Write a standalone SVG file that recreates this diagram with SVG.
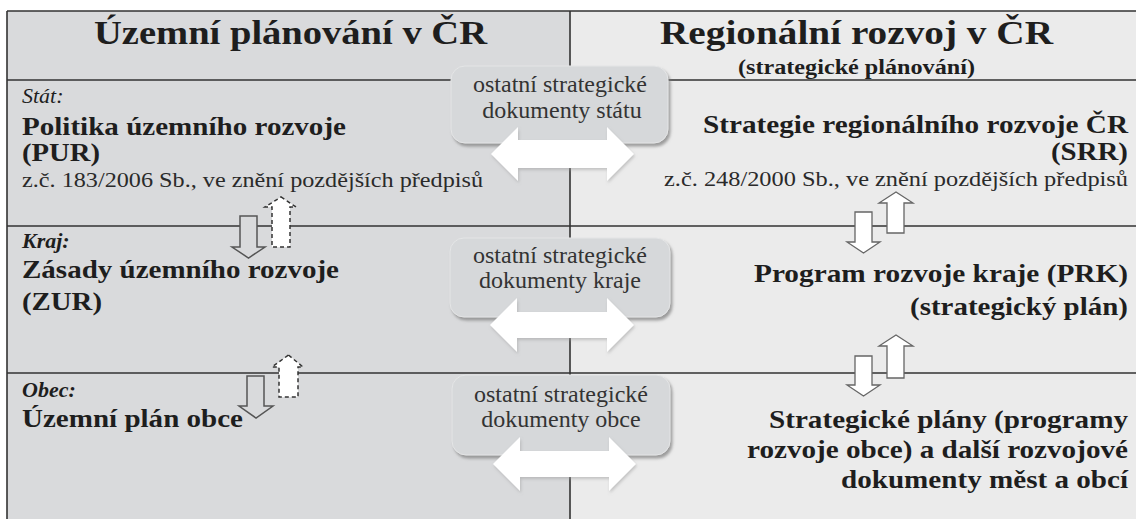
<svg xmlns="http://www.w3.org/2000/svg" width="1136" height="519" viewBox="0 0 1136 519">
<defs>
<style>
.t{font-family:"Liberation Serif","Times New Roman",serif;fill:#1e1e1e}
.b{font-weight:bold}
.ti{font-size:33px;font-weight:bold}
.sub{font-size:20px;font-weight:bold}
.bd{font-size:25px;font-weight:bold}
.rg{font-size:22px;fill:#2a2a2a}
.lb{font-size:22px;font-style:italic}
.bx{font-size:24px;fill:#333}
.ln{stroke:#333;stroke-width:1.6;fill:none}
.box{fill:#d6d8da;stroke:#e4e5e6;stroke-width:1}
.dbl{fill:#fff}
.dl{fill:#d9dadc;stroke:#555;stroke-width:1.5}
.dr{fill:#fff;stroke:#666;stroke-width:1.3}
.ds{fill:#fff;stroke:#333;stroke-width:1.5;stroke-dasharray:4 3}
</style>
<filter id="sh" x="-10%" y="-10%" width="130%" height="140%">
<feDropShadow dx="2" dy="3" stdDeviation="1.5" flood-color="#7a7a7a" flood-opacity="0.7"/>
</filter>
<filter id="sh2" x="-10%" y="-20%" width="130%" height="150%">
<feDropShadow dx="1" dy="2" stdDeviation="1.5" flood-color="#9a9a9a" flood-opacity="0.5"/>
</filter>
</defs>
<rect x="0" y="0" width="1136" height="519" fill="#fff"/>
<rect x="7" y="11" width="563" height="508" fill="#d9dadc"/>
<rect x="570" y="11" width="566" height="508" fill="#ebebeb"/>
<g id="connectors">
<path class="ln" d="M7,11 H1136 M7,11 V519 M570,11 V519 M7,80 H1136 M7,226 H1136 M7,373 H1136"/>
</g>
<g id="box-stat" filter="url(#sh)"><rect class="box" x="451" y="66" width="217" height="77" rx="14"/></g>
<g id="box-kraj" filter="url(#sh)"><rect class="box" x="450" y="238" width="220" height="79" rx="14"/></g>
<g id="box-obec" filter="url(#sh)"><rect class="box" x="452" y="375" width="218" height="80" rx="14"/></g>
<g id="box-texts">
<text class="t bx" x="560" y="92" text-anchor="middle">ostatní strategické</text>
<text class="t bx" x="562" y="118" text-anchor="middle">dokumenty státu</text>
<text class="t bx" x="560" y="263" text-anchor="middle">ostatní strategické</text>
<text class="t bx" x="560" y="288" text-anchor="middle">dokumenty kraje</text>
<text class="t bx" x="561" y="402" text-anchor="middle">ostatní strategické</text>
<text class="t bx" x="561" y="427" text-anchor="middle">dokumenty obce</text>
</g>
<g id="double-arrows" filter="url(#sh2)">
<path class="dbl" d="M491,154 L518,127 L518,140 L607,140 L607,127 L634,154 L607,181 L607,168 L518,168 L518,181 Z"/>
<path class="dbl" d="M490,325 L517,298 L517,312 L607,312 L607,298 L634,325 L607,352 L607,338 L517,338 L517,352 Z"/>
<path class="dbl" d="M493,464 L520,437 L520,451 L609,451 L609,437 L636,464 L609,491 L609,477 L520,477 L520,491 Z"/>
</g>
<g id="vertical-arrows">
<path class="dl" d="M240,216 L257,216 L257,247 L265,247 L248.5,258 L232,247 L240,247 Z"/>
<path class="ds" d="M281,197 L296,207 L290,207 L290,247 L272,247 L272,207 L265,207 Z"/>
<path class="dl" d="M247,376 L264,376 L264,406 L273,406 L256,418 L239,406 L247,406 Z"/>
<path class="ds" d="M288.5,355 L303,367 L298,367 L298,397 L279,397 L279,367 L272,367 Z"/>
<path class="dr" d="M896,192 L913,203 L904,203 L904,233 L887,233 L887,203 L879,203 Z"/>
<path class="dr" d="M855,212 L872,212 L872,242 L880,242 L863.5,253 L847,242 L855,242 Z"/>
<path class="dr" d="M896,335 L913,346 L904,346 L904,378 L887,378 L887,346 L879,346 Z"/>
<path class="dr" d="M855,356 L872,356 L872,385 L880,385 L863.5,396 L847,385 L855,385 Z"/>
</g>
<g id="header-left">
<text class="t ti" x="94" y="44" textLength="393" lengthAdjust="spacingAndGlyphs">Územní plánování v ČR</text>
</g>
<g id="header-right">
<text class="t ti" x="660" y="44" textLength="393" lengthAdjust="spacingAndGlyphs">Regionální rozvoj v ČR</text>
<text class="t sub" x="738" y="74" textLength="237" lengthAdjust="spacingAndGlyphs">(strategické plánování)</text>
</g>
<g id="node-pur">
<text class="t lb" x="22" y="103">Stát:</text>
<text class="t bd" x="22" y="135" textLength="324" lengthAdjust="spacingAndGlyphs">Politika územního rozvoje</text>
<text class="t bd" x="22" y="161" textLength="78" lengthAdjust="spacingAndGlyphs">(PUR)</text>
<text class="t rg" x="22" y="187" textLength="461" lengthAdjust="spacingAndGlyphs">z.č. 183/2006 Sb., ve znění pozdějších předpisů</text>
</g>
<g id="node-zur">
<text class="t lb b" x="22" y="248">Kraj:</text>
<text class="t bd" x="22" y="278" textLength="317" lengthAdjust="spacingAndGlyphs">Zásady územního rozvoje</text>
<text class="t bd" x="22" y="310" textLength="80" lengthAdjust="spacingAndGlyphs">(ZUR)</text>
</g>
<g id="node-up">
<text class="t lb b" x="22" y="397">Obec:</text>
<text class="t bd" x="22" y="427" textLength="221" lengthAdjust="spacingAndGlyphs">Územní plán obce</text>
</g>
<g id="node-srr">
<text class="t bd" x="703" y="133" textLength="425" lengthAdjust="spacingAndGlyphs">Strategie regionálního rozvoje ČR</text>
<text class="t bd" x="1051" y="160" textLength="77" lengthAdjust="spacingAndGlyphs">(SRR)</text>
<text class="t rg" x="664" y="186" textLength="464" lengthAdjust="spacingAndGlyphs">z.č. 248/2000 Sb., ve znění pozdějších předpisů</text>
</g>
<g id="node-prk">
<text class="t bd" x="754" y="282" textLength="374" lengthAdjust="spacingAndGlyphs">Program rozvoje kraje (PRK)</text>
<text class="t bd" x="910" y="315" textLength="218" lengthAdjust="spacingAndGlyphs">(strategický plán)</text>
</g>
<g id="node-obce">
<text class="t bd" x="769" y="428" textLength="359" lengthAdjust="spacingAndGlyphs">Strategické plány (programy</text>
<text class="t bd" x="747" y="458" textLength="381" lengthAdjust="spacingAndGlyphs">rozvoje obce) a další rozvojové</text>
<text class="t bd" x="841" y="488" textLength="287" lengthAdjust="spacingAndGlyphs">dokumenty měst a obcí</text>
</g>
</svg>
